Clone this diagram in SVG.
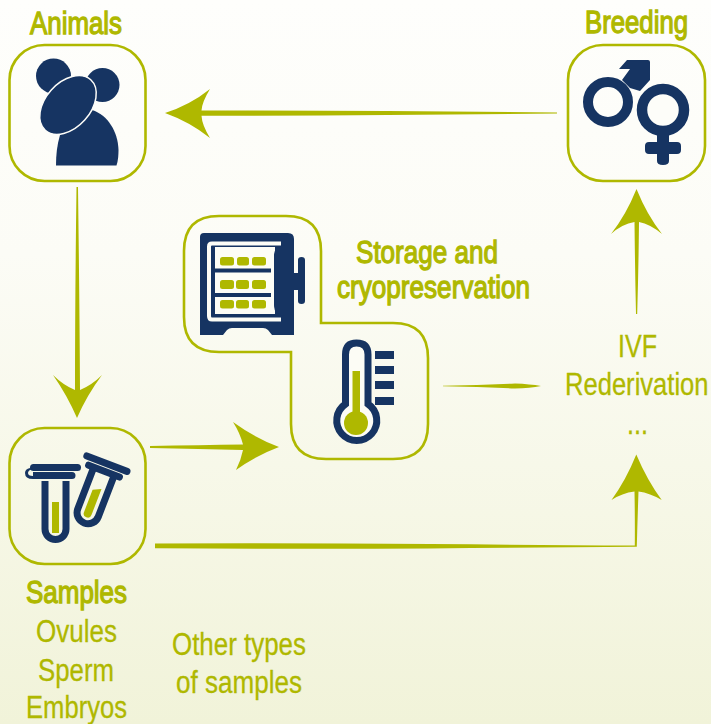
<svg xmlns="http://www.w3.org/2000/svg" width="711" height="724" viewBox="0 0 711 724">
<defs>
<linearGradient id="bg" x1="0" y1="0" x2="0" y2="1"><stop offset="0" stop-color="#fefefc"/><stop offset="0.35" stop-color="#fcfcf6"/><stop offset="1" stop-color="#f1f3d9"/></linearGradient>
</defs>
<style>
.box{fill:none;stroke:#afb800;stroke-width:2.6}
.navy{fill:#163462}
.gold{fill:#afb800}
.ring{fill:none;stroke:#163462}
.arrow{fill:#afb800}
text{font-family:"Liberation Sans",Arial,sans-serif;font-size:31px;fill:#afb800;stroke:#afb800;stroke-width:.3;text-anchor:start}
.b{stroke-width:1.3}
</style>
<rect width="711" height="724" fill="url(#bg)"/>
<g id="connectors">
<path class="arrow" d="M165 113Q190 105 210 89Q202 102 201.500 110.500Q400 110.500 557 112.500L557 113.500Q400 115.500 201.500 115.800Q202 125 210 138Q190 122 165 113Z"/>
<path class="arrow" d="M76.500 187L78 187Q79.500 300 80 390Q92 385 102 375Q87 395 77 418Q67 395 53 375Q63 385 75 390Q75 300 76.500 187Z"/>
<path class="arrow" d="M636.500 189Q647 215 662 234Q650 224 639 222Q638.500 270 637.200 314L636 314Q635 270 634.500 222Q622 224 611 234Q626 215 636.500 189Z"/>
<path class="arrow" d="M150 446Q200 445 243 444.500Q240 433 233 422Q255 438 279 447Q255 456 236 470Q241 460 243 450Q200 449 150 448Z"/>
<path class="arrow" d="M443 385.700Q480 385 515 383.500Q530 384 541 386Q530 388 515 388.500Q480 387 443 386.300Z"/>
<path class="arrow" d="M155 543.500Q300 543 430 544Q540 545 634.800 545.500Q635 520 634.500 491.500Q622 493 611.500 500Q626 480 636.300 454.500Q647 480 661.700 500Q650 493 638.500 491.500Q637.500 520 636.800 546.800Q540 547.500 430 548.500Q300 549 155 548.300Z"/>
</g>
<g id="animals">
<rect class="box" x="9.500" y="45" width="136" height="136" rx="35"/>
<circle class="navy" cx="53.500" cy="76" r="17.500"/>
<circle class="navy" cx="102.500" cy="85" r="17"/>
<path class="navy" d="M56 165.500C56 155 57 145 60 135L92 110C108 115 118 132 118.500 150C118.500 156 118 161 116.500 165.500Z"/>
<ellipse class="navy" cx="68" cy="105" rx="34" ry="22.500" transform="rotate(-48 68 105)" stroke="#fdfdf9" stroke-width="1.500"/>
<text class="b" x="30" y="34" textLength="92" lengthAdjust="spacingAndGlyphs">Animals</text>
</g>
<g id="breeding">
<rect class="box" x="568" y="45" width="137" height="136" rx="35"/>
<circle class="ring" cx="608" cy="102" r="20" stroke-width="10"/>
<path class="navy" d="M619 69L627 60H648Q650 60 650 62V80L640 91L630 88L622 80L630 69Z"/>
<path class="navy" d="M657 130H669V142H677Q681 142 681 146V150Q681 154 677 154H669V161Q669 165 663 165Q657 165 657 161V154H649Q645 154 645 150V146Q645 142 649 142H657Z"/>
<circle cx="663" cy="110" r="28" fill="#fdfdf9"/>
<circle class="ring" cx="663" cy="110" r="21" stroke-width="10.500"/>
<rect class="navy" x="657" y="134" width="12" height="9"/>
<text class="b" x="585" y="33" textLength="103" lengthAdjust="spacingAndGlyphs">Breeding</text>
</g>
<g id="storage">
<path class="box" d="M219 216H286Q321 216 321 251V323H393Q428 323 428 358V424Q428 459 393 459H326Q291 459 291 424V352H219Q184 352 184 317V251Q184 216 219 216Z"/>
<path class="navy" d="M204 233H288Q294 233 294 239V335H272L268 330Q266 328 263 328H232Q229 328 227 330L223 335H200V237Q200 233 204 233Z"/>
<path d="M281 243.500H212Q209 243.500 209 246.500V316Q209 319.500 212 319.500H281" fill="none" stroke="#fdfdf6" stroke-width="4"/>
<rect x="215" y="247" width="60" height="67" fill="#fdfdf6"/>
<rect class="navy" x="215" y="268.500" width="56" height="4"/>
<rect class="navy" x="215" y="293" width="56" height="4"/>
<path class="navy" d="M285 245.500H294V315.500H285Q274 315.500 274 305V256Q274 245.500 285 245.500Z"/>
<path class="navy" d="M294 273H298V260Q298 257 301.500 257Q305 257 305 260V301Q305 304 301.500 304Q298 304 298 301V290H294Z"/>
<g class="gold">
<rect x="220" y="257" width="14" height="8.500" rx="2.500"/><rect x="237" y="257" width="12" height="8.500" rx="2.500"/><rect x="252" y="257" width="14" height="8.500" rx="2.500"/>
<rect x="220" y="280" width="14" height="9" rx="2.500"/><rect x="236" y="280" width="13" height="9" rx="2.500"/><rect x="252" y="280" width="14" height="9" rx="2.500"/>
<rect x="220" y="300" width="14" height="8.500" rx="2.500"/><rect x="236" y="300" width="13" height="8.500" rx="2.500"/><rect x="252" y="300" width="14" height="8.500" rx="2.500"/>
</g>
<path d="M345.500 404V354.500Q345.500 343 356.500 343Q368 343 368 354.500V404A20 20 0 1 1 345.500 404Z" fill="#fcfcf5" stroke="#163462" stroke-width="7"/>
<circle class="gold" cx="356" cy="423" r="12"/>
<rect class="gold" x="352.500" y="371" width="7.500" height="50"/>
<rect class="navy" x="375" y="351" width="19" height="8"/><rect class="navy" x="375" y="366" width="19" height="8"/><rect class="navy" x="375" y="381" width="19" height="8"/><rect class="navy" x="375" y="397" width="19" height="8"/>
<text class="b" x="356" y="263" textLength="142" lengthAdjust="spacingAndGlyphs">Storage and</text>
<text class="b" x="337" y="298" textLength="193" lengthAdjust="spacingAndGlyphs">cryopreservation</text>
</g>
<g id="samples">
<rect class="box" x="9.500" y="428" width="136" height="136" rx="35"/>
<path d="M45 481V529A10.500 10.500 0 0 0 66 529V481" fill="none" stroke="#163462" stroke-width="7"/>
<rect class="gold" x="52" y="502" width="7" height="31"/>
<rect class="navy" x="30" y="464" width="51" height="7" rx="3.500"/>
<path class="navy" d="M33 472H72Q75.500 472 75.500 475.500Q75.500 479 72 479H33Q25 479 25 473Q25 469 30 468L33 469Q28 470 28 473Q28 476 33 476Z"/>
<g transform="translate(106 466) rotate(21)">
<path d="M-11 6V50A11 11 0 0 0 11 50V8" fill="none" stroke="#163462" stroke-width="7"/>
<path class="gold" d="M-4 27L4 23V51Q4 55 0 55Q-4 55 -4 51Z"/>
<rect class="navy" x="-25" y="-6" width="50" height="7" rx="3.500"/>
<rect class="navy" x="-20" y="2" width="40" height="7" rx="3.500"/>
</g>
<text class="b" x="26" y="603" textLength="101" lengthAdjust="spacingAndGlyphs">Samples</text>
<text x="36" y="642" textLength="81" lengthAdjust="spacingAndGlyphs">Ovules</text>
<text x="38" y="681" textLength="76" lengthAdjust="spacingAndGlyphs">Sperm</text>
<text x="26" y="718" textLength="101" lengthAdjust="spacingAndGlyphs">Embryos</text>
</g>
<g id="other-types">
<text x="172" y="655" textLength="134" lengthAdjust="spacingAndGlyphs">Other types</text>
<text x="176" y="693" textLength="126" lengthAdjust="spacingAndGlyphs">of samples</text>
</g>
<g id="methods">
<text x="618" y="357" textLength="39" lengthAdjust="spacingAndGlyphs">IVF</text>
<text transform="translate(565 395) scale(.825 1)">Rederivation</text>
<text x="627" y="434" textLength="21" lengthAdjust="spacingAndGlyphs">...</text>
</g>
</svg>
